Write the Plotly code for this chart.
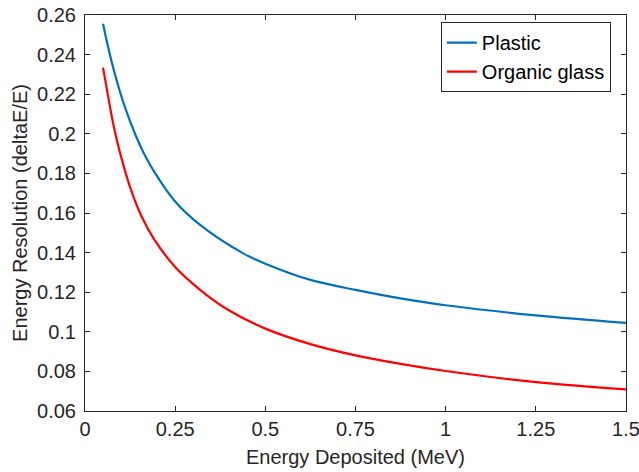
import plotly.graph_objects as go

# Energy deposited (MeV) and energy resolution
plastic_e = [0.05, 0.06, 0.075, 0.09, 0.11, 0.14, 0.162, 0.19, 0.25, 0.319, 0.44, 0.5,
             0.625, 0.75, 0.875, 1.0, 1.25, 1.5]
plastic_r = [0.2556, 0.2471, 0.2356, 0.2255, 0.2138, 0.1994, 0.1906, 0.1814, 0.1658, 0.1540, 0.1395, 0.1344,
             0.1262, 0.1212, 0.1169, 0.1134, 0.1083, 0.1045]

glass_e = [0.05, 0.065, 0.08, 0.097, 0.125, 0.157, 0.19, 0.25, 0.319, 0.394, 0.5,
           0.625, 0.75, 0.875, 1.0, 1.25, 1.5]
glass_r = [0.2334, 0.2180, 0.2035, 0.1905, 0.1731, 0.1582, 0.1472, 0.1327, 0.1212, 0.1114, 0.1016,
           0.0938, 0.0881, 0.0838, 0.0802, 0.0746, 0.0709]

x_ticks = [0, 0.25, 0.5, 0.75, 1, 1.25, 1.5]
x_tick_labels = ["0", "0.25", "0.5", "0.75", "1", "1.25", "1.5"]
y_ticks = [0.06, 0.08, 0.10, 0.12, 0.14, 0.16, 0.18, 0.20, 0.22, 0.24, 0.26]
y_tick_labels = ["0.06", "0.08", "0.1", "0.12", "0.14", "0.16", "0.18", "0.2", "0.22", "0.24", "0.26"]

font_family = "Liberation Sans, Arial, Helvetica, sans-serif"
axis_color = "#262626"
fsize = 20

fig = go.Figure()
fig.add_trace(go.Scatter(x=plastic_e, y=plastic_r, mode="lines", name="Plastic",
                         line=dict(color="#0072BD", width=2.2, shape="spline", smoothing=1.0)))
fig.add_trace(go.Scatter(x=glass_e, y=glass_r, mode="lines", name="Organic glass",
                         line=dict(color="#FF0000", width=2.2, shape="spline", smoothing=1.0)))

axis_common = dict(
    showline=True, linecolor=axis_color, linewidth=1, mirror="ticks",
    ticks="inside", ticklen=5, tickcolor=axis_color, tickwidth=1,
    showgrid=False, zeroline=False, automargin=False,
    ticklabeloverflow="allow",
    tickfont=dict(family=font_family, size=fsize, color=axis_color),
)

fig.update_layout(
    template="none",
    width=639, height=472,
    margin=dict(l=85, r=13, t=15, b=61, pad=0),
    paper_bgcolor="white", plot_bgcolor="white",
    font=dict(family=font_family, size=fsize, color=axis_color),
    xaxis=dict(range=[0, 1.5], tickvals=x_ticks, ticktext=x_tick_labels,
               title=dict(text="Energy Deposited (MeV)", standoff=10,
                          font=dict(family=font_family, size=fsize, color=axis_color)),
               **axis_common),
    yaxis=dict(range=[0.06, 0.26], tickvals=y_ticks, ticktext=y_tick_labels,
               ticklabelstandoff=4,
               title=dict(text="Energy Resolution (deltaE/E)", standoff=4,
                          font=dict(family=font_family, size=fsize, color=axis_color)),
               **axis_common),
    legend=dict(x=0.972, y=0.982, xanchor="right", yanchor="top",
                bgcolor="white", bordercolor="#262626", borderwidth=1,
                font=dict(family=font_family, size=fsize, color="black"),
                tracegroupgap=0),
    showlegend=True,
)

fig.write_html("out.html")
